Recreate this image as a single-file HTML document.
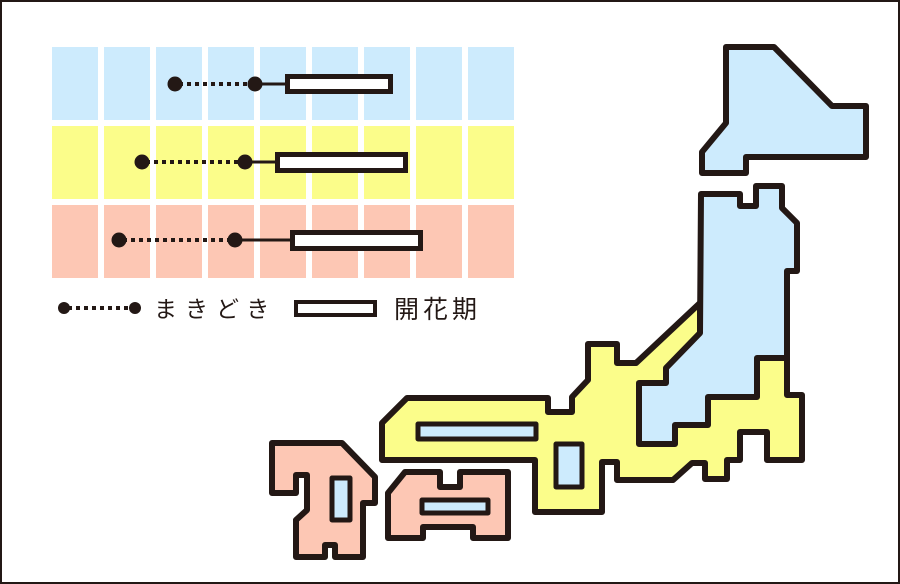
<!DOCTYPE html>
<html><head><meta charset="utf-8"><style>
html,body{margin:0;padding:0;background:#fff}
svg{display:block}
text{font-family:"Liberation Sans","Noto Sans CJK JP",sans-serif;fill:#231815}
</style></head><body>
<svg width="900" height="584" viewBox="0 0 900 584" xmlns="http://www.w3.org/2000/svg">
<rect x="1" y="1" width="898" height="582" fill="#fff" stroke="#231815" stroke-width="2"/>
<g fill="#cdebfd">
<rect x="52" y="47" width="46" height="73"/><rect x="104" y="47" width="46" height="73"/><rect x="156" y="47" width="46" height="73"/><rect x="208" y="47" width="46" height="73"/><rect x="260" y="47" width="46" height="73"/><rect x="312" y="47" width="46" height="73"/><rect x="364" y="47" width="46" height="73"/><rect x="416" y="47" width="46" height="73"/><rect x="468" y="47" width="46" height="73"/>
</g>
<g fill="#fbfd8a">
<rect x="52" y="126" width="46" height="73"/><rect x="104" y="126" width="46" height="73"/><rect x="156" y="126" width="46" height="73"/><rect x="208" y="126" width="46" height="73"/><rect x="260" y="126" width="46" height="73"/><rect x="312" y="126" width="46" height="73"/><rect x="364" y="126" width="46" height="73"/><rect x="416" y="126" width="46" height="73"/><rect x="468" y="126" width="46" height="73"/>
</g>
<g fill="#fdc7b4">
<rect x="52" y="205" width="46" height="73"/><rect x="104" y="205" width="46" height="73"/><rect x="156" y="205" width="46" height="73"/><rect x="208" y="205" width="46" height="73"/><rect x="260" y="205" width="46" height="73"/><rect x="312" y="205" width="46" height="73"/><rect x="364" y="205" width="46" height="73"/><rect x="416" y="205" width="46" height="73"/><rect x="468" y="205" width="46" height="73"/>
</g>
<g stroke="#231815" fill="#231815">
<line x1="175" y1="84" x2="255" y2="84" stroke-width="4" stroke-dasharray="4 4" stroke-dashoffset="-4"/>
<line x1="255" y1="84" x2="286" y2="84" stroke-width="3"/>
<circle cx="175" cy="84" r="7.5" stroke="none"/><circle cx="255" cy="84" r="7.5" stroke="none"/>
<rect x="287.5" y="76.5" width="103" height="15" fill="#fff" stroke-width="5"/>

<line x1="142" y1="162" x2="245" y2="162" stroke-width="4" stroke-dasharray="4 4" stroke-dashoffset="-4"/>
<line x1="245" y1="162" x2="276" y2="162" stroke-width="3"/>
<circle cx="142" cy="162" r="7.5" stroke="none"/><circle cx="245" cy="162" r="7.5" stroke="none"/>
<rect x="277.5" y="154.5" width="128" height="16" fill="#fff" stroke-width="5"/>

<line x1="119" y1="240" x2="235" y2="240" stroke-width="4" stroke-dasharray="4 4" stroke-dashoffset="-4"/>
<line x1="235" y1="240" x2="291" y2="240" stroke-width="3"/>
<circle cx="119" cy="240" r="7.5" stroke="none"/><circle cx="235" cy="240" r="7.5" stroke="none"/>
<rect x="292.5" y="232.5" width="128" height="16" fill="#fff" stroke-width="5"/>

<line x1="64" y1="308" x2="135" y2="308" stroke-width="4" stroke-dasharray="4 4" stroke-dashoffset="-4"/>
<circle cx="64" cy="308" r="6" stroke="none"/><circle cx="135" cy="308" r="6" stroke="none"/>
<rect x="296" y="302" width="79" height="13" fill="#fff" stroke-width="4"/>
</g>
<text x="154" y="317" font-size="23" letter-spacing="8">まきどき</text>
<text x="394" y="318" font-size="25" letter-spacing="4">開花期</text>

<g stroke="#231815" stroke-width="6" stroke-linejoin="round">
<polygon fill="#cdebfd" points="726,47 774,47 832,106 866,106 866,157 746,157 746,173 702,173 702,152 726,123"/>
<polygon fill="#fbfd8a" points="700,303 636,363 617,363 617,344 588,344 588,380 572,397 572,412 548,412 548,398 407,398 382,423 382,460 535,460 535,512 602,512 602,462 617,462 617,480 673,480 692,463 705,463 705,479 727,479 727,460 740,460 740,432 767,432 767,460 802,460 802,395 787,395 787,358 700,358"/>
<polygon fill="#cdebfd" points="701,194 740,194 740,206 756,206 756,186 782,186 782,208 797,223 797,271 787,271 787,358 757,358 757,397 708,397 708,425 675,425 675,444 639,444 639,383 666,383 666,368 700,333"/>
<rect x="418" y="424" width="118" height="15" fill="#cdebfd" stroke-width="5"/>
<rect x="556" y="444" width="26" height="43" fill="#cdebfd" stroke-width="5"/>
<polygon fill="#fdc7b4" points="272,443 342,443 375,477 375,503 363,503 363,557 335,557 335,545 325,545 325,557 296,557 296,520 307,510 307,475 296,475 296,493 272,493"/>
<rect x="332" y="478" width="18" height="42" fill="#cdebfd" stroke-width="5"/>
<polygon fill="#fdc7b4" points="388,493 405,472 440,472 440,487 460,487 460,472 508,472 508,538 473,538 473,527 423,527 423,538 388,538"/>
<rect x="422" y="500" width="66" height="13" fill="#cdebfd" stroke-width="5"/>
</g>
</svg>
</body></html>
